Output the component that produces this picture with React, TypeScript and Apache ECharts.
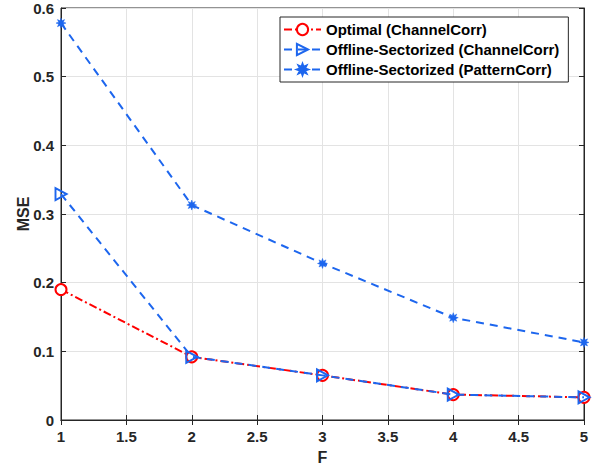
import React, { useEffect, useRef } from "react";
import * as echarts from "echarts";

const xValues = [1, 2, 3, 4, 5];
const optimalChannel = [0.19, 0.092, 0.065, 0.037, 0.033];
const offlineChannel = [0.329, 0.092, 0.065, 0.037, 0.033];
const offlinePattern = [0.578, 0.313, 0.228, 0.149, 0.113];
const seriesNames = [
  "Optimal (ChannelCorr)",
  "Offline-Sectorized (ChannelCorr)",
  "Offline-Sectorized (PatternCorr)",
];

const RED = "#ff0000";
const BLUE = "#1d66ee";
const AX = "#262626";

function starPath(): string {
  const pts: string[] = [];
  const n = 8;
  for (let i = 0; i < n * 2; i++) {
    const r = i % 2 === 0 ? 10 : 5;
    const a = (Math.PI * i) / n - Math.PI / 2;
    const x = 10 + r * Math.cos(a);
    const y = 10 + r * Math.sin(a);
    pts.push((i === 0 ? "M" : "L") + x.toFixed(2) + "," + y.toFixed(2));
  }
  return "path://" + pts.join(" ") + " Z";
}

export default function App() {
  const ref = useRef<HTMLDivElement>(null);
  useEffect(() => {
    if (!ref.current) return;
    const chart = echarts.init(ref.current, null, { renderer: "svg" });
    const font = "Liberation Sans, Arial, Helvetica, sans-serif";
    const pair = (arr: number[]) => xValues.map((x, i) => [x, arr[i]]);
    chart.setOption({
      animation: false,
      backgroundColor: "#ffffff",
      textStyle: { fontFamily: font },
      grid: {
        left: 61,
        right: 18,
        top: 8,
        bottom: 46,
        show: true,
        borderColor: AX,
        borderWidth: 1,
        containLabel: false,
        outerBoundsMode: "none",
      },
      legend: {
        orient: "vertical",
        left: 280,
        top: 17,
        backgroundColor: "#ffffff",
        borderColor: AX,
        borderWidth: 1,
        borderRadius: 0,
        padding: [5, 9, 5, 3],
        itemGap: 5,
        itemWidth: 37,
        itemHeight: 14,
        textStyle: { fontFamily: font, fontWeight: "bold", fontSize: 15, color: "#000", padding: [0, 0, 0, 0] },
        data: seriesNames,
      },
      xAxis: [
        {
          type: "value",
          min: 1,
          max: 5,
          interval: 0.5,
          name: "F",
          nameLocation: "middle",
          nameGap: 30,
          nameMoveOverlap: false,
          nameTextStyle: { fontFamily: font, fontWeight: "bold", fontSize: 16, lineHeight: 14, color: AX },
          axisLine: { show: true, lineStyle: { color: AX } },
          axisTick: { show: true, inside: true, length: 5, lineStyle: { color: AX } },
          axisLabel: { fontFamily: font, fontWeight: "bold", fontSize: 15, color: AX, margin: 9 },
          splitLine: { show: true, lineStyle: { color: "#e3e3e3" } },
        },
        {
          type: "value",
          position: "top",
          min: 1,
          max: 5,
          interval: 0.5,
          axisLine: { show: true, lineStyle: { color: AX } },
          axisTick: { show: true, inside: true, length: 5, lineStyle: { color: AX } },
          axisLabel: { show: false },
          splitLine: { show: false },
        },
      ],
      yAxis: [
        {
          type: "value",
          min: 0,
          max: 0.6,
          interval: 0.1,
          name: "MSE",
          nameLocation: "middle",
          nameGap: 31,
          nameMoveOverlap: false,
          nameTextStyle: { fontFamily: font, fontWeight: "bold", fontSize: 16, lineHeight: 14, color: AX },
          axisLine: { show: true, lineStyle: { color: AX } },
          axisTick: { show: true, inside: true, length: 5, lineStyle: { color: AX } },
          axisLabel: { fontFamily: font, fontWeight: "bold", fontSize: 15, color: AX, margin: 7 },
          splitLine: { show: true, lineStyle: { color: "#e3e3e3" } },
        },
        {
          type: "value",
          position: "right",
          min: 0,
          max: 0.6,
          interval: 0.1,
          axisLine: { show: true, lineStyle: { color: AX } },
          axisTick: { show: true, inside: true, length: 5, lineStyle: { color: AX } },
          axisLabel: { show: false },
          splitLine: { show: false },
        },
      ],
      series: [
        {
          name: seriesNames[0],
          type: "line",
          data: pair(optimalChannel),
          color: RED,
          symbol: "emptyCircle",
          symbolSize: 11,
          lineStyle: { color: RED, width: 2, type: [8, 3, 2, 3] },
          itemStyle: { color: RED, borderColor: RED, borderWidth: 2 },
          z: 2,
        },
        {
          name: seriesNames[1],
          type: "line",
          data: pair(offlineChannel),
          color: BLUE,
          symbol: "path://M0,0 L10,5 L0,10 Z",
          symbolSize: [11, 12],
          symbolKeepAspect: true,
          lineStyle: { color: BLUE, width: 2, type: [8, 6] },
          itemStyle: { color: "rgba(255,255,255,0)", borderColor: BLUE, borderWidth: 2 },
          z: 3,
        },
        {
          name: seriesNames[2],
          type: "line",
          data: pair(offlinePattern),
          color: BLUE,
          symbol: starPath(),
          symbolSize: 10,
          lineStyle: { color: BLUE, width: 2, type: [8, 6] },
          itemStyle: { color: BLUE, borderColor: BLUE, borderWidth: 0.5 },
          z: 3,
        },
      ],
    });
    return () => chart.dispose();
  }, []);
  return <div ref={ref} style={{ width: 602, height: 466, position: "absolute", left: 0, top: 0 }} />;
}
